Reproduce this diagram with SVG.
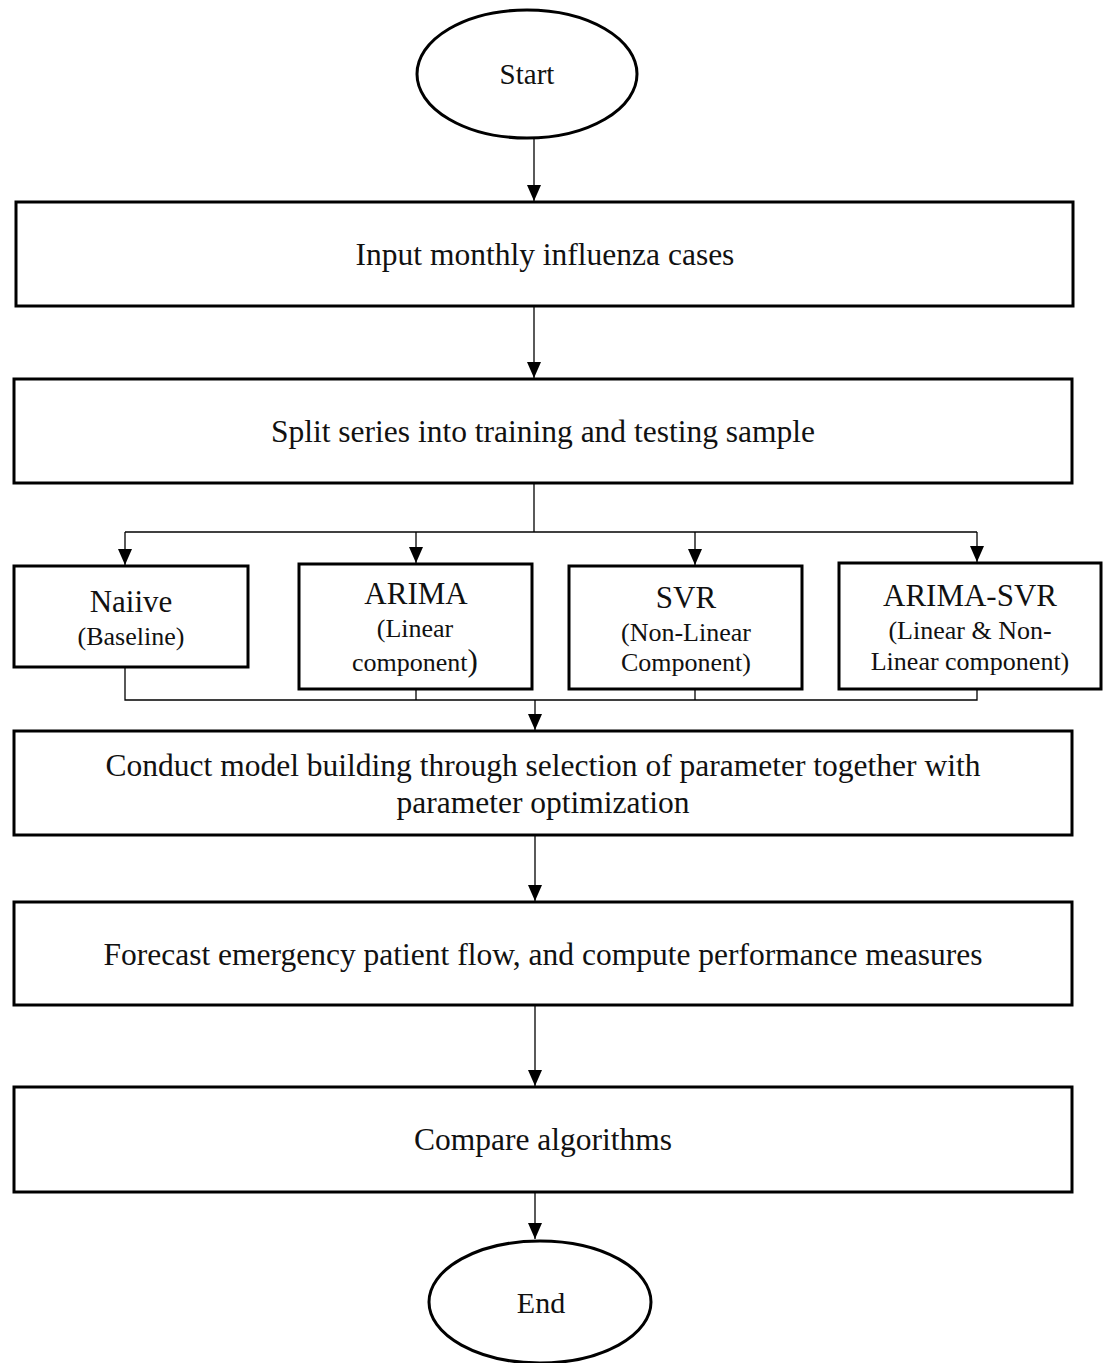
<svg xmlns="http://www.w3.org/2000/svg" width="1104" height="1363" viewBox="0 0 1104 1363">
<style>
.box{fill:#fff;stroke:#000;stroke-width:3}
.t{font-family:"Liberation Serif","Times New Roman",serif;font-size:31.5px;fill:#111;text-anchor:middle}
.h{font-family:"Liberation Serif","Times New Roman",serif;font-size:31px;fill:#111;text-anchor:middle}
.s{font-family:"Liberation Serif","Times New Roman",serif;font-size:26px;fill:#111;text-anchor:middle}
.c{fill:none;stroke:#000;stroke-width:1.3}
</style>
<defs>
<marker id="arr" viewBox="0 0 16 14" refX="16" refY="7" markerWidth="16" markerHeight="14" markerUnits="userSpaceOnUse" orient="auto">
<path d="M0,0 L16,7 L0,14 Z" fill="#000"/>
</marker>
</defs>
<rect width="1104" height="1363" fill="#fff"/>
<g id="connectors">
<line class="c" x1="534" y1="139" x2="534" y2="201" marker-end="url(#arr)"/>
<line class="c" x1="534" y1="306" x2="534" y2="378" marker-end="url(#arr)"/>
<polyline class="c" points="534,483 534,532"/>
<line class="c" x1="125" y1="532" x2="977" y2="532"/>
<line class="c" x1="125" y1="532" x2="125" y2="565" marker-end="url(#arr)"/>
<line class="c" x1="416" y1="532" x2="416" y2="563" marker-end="url(#arr)"/>
<line class="c" x1="695" y1="532" x2="695" y2="565" marker-end="url(#arr)"/>
<line class="c" x1="977" y1="532" x2="977" y2="562" marker-end="url(#arr)"/>
<polyline class="c" points="125,667 125,700 977,700 977,689"/>
<line class="c" x1="416" y1="689" x2="416" y2="700"/>
<line class="c" x1="695" y1="689" x2="695" y2="700"/>
<line class="c" x1="535" y1="700" x2="535" y2="730" marker-end="url(#arr)"/>
<line class="c" x1="535" y1="835" x2="535" y2="901" marker-end="url(#arr)"/>
<line class="c" x1="535" y1="1005" x2="535" y2="1086" marker-end="url(#arr)"/>
<line class="c" x1="535" y1="1192" x2="535" y2="1239" marker-end="url(#arr)"/>
</g>
<g id="start">
<ellipse class="box" cx="527" cy="74" rx="110" ry="64" stroke-width="2.5"/>
<text class="t" x="527" y="84" style="font-size:29px">Start</text>
</g>
<g id="input">
<rect class="box" x="16" y="202" width="1057" height="104"/>
<text class="t" x="545" y="265">Input monthly influenza cases</text>
</g>
<g id="split">
<rect class="box" x="14" y="379" width="1058" height="104"/>
<text class="t" x="543" y="442">Split series into training and testing sample</text>
</g>
<g id="naive">
<rect class="box" x="14" y="566" width="234" height="101"/>
<text class="h" x="131" y="612">Naiive</text>
<text class="s" x="131" y="645">(Baseline)</text>
</g>
<g id="arima">
<rect class="box" x="299" y="564" width="233" height="125"/>
<text class="h" x="416" y="604">ARIMA</text>
<text class="s" x="415" y="637">(Linear</text>
<text class="s" x="415" y="671">component<tspan style="font-size:31px">)</tspan></text>
</g>
<g id="svr">
<rect class="box" x="569" y="566" width="233" height="123"/>
<text class="h" x="686" y="608">SVR</text>
<text class="s" x="686" y="641">(Non-Linear</text>
<text class="s" x="686" y="671">Component)</text>
</g>
<g id="arimasvr">
<rect class="box" x="839" y="563" width="262" height="126"/>
<text class="h" x="970" y="606">ARIMA-SVR</text>
<text class="s" x="970" y="639">(Linear &amp; Non-</text>
<text class="s" x="970" y="670">Linear component)</text>
</g>
<g id="conduct">
<rect class="box" x="14" y="731" width="1058" height="104"/>
<text class="t" x="543" y="776">Conduct model building through selection of parameter together with</text>
<text class="t" x="543" y="813">parameter optimization</text>
</g>
<g id="forecast">
<rect class="box" x="14" y="902" width="1058" height="103"/>
<text class="t" x="543" y="965">Forecast emergency patient flow, and compute performance measures</text>
</g>
<g id="compare">
<rect class="box" x="14" y="1087" width="1058" height="105"/>
<text class="t" x="543" y="1150">Compare algorithms</text>
</g>
<g id="end">
<ellipse class="box" cx="540" cy="1302" rx="111" ry="61" stroke-width="2.5"/>
<text class="t" x="541" y="1313" style="font-size:30px">End</text>
</g>
</svg>
